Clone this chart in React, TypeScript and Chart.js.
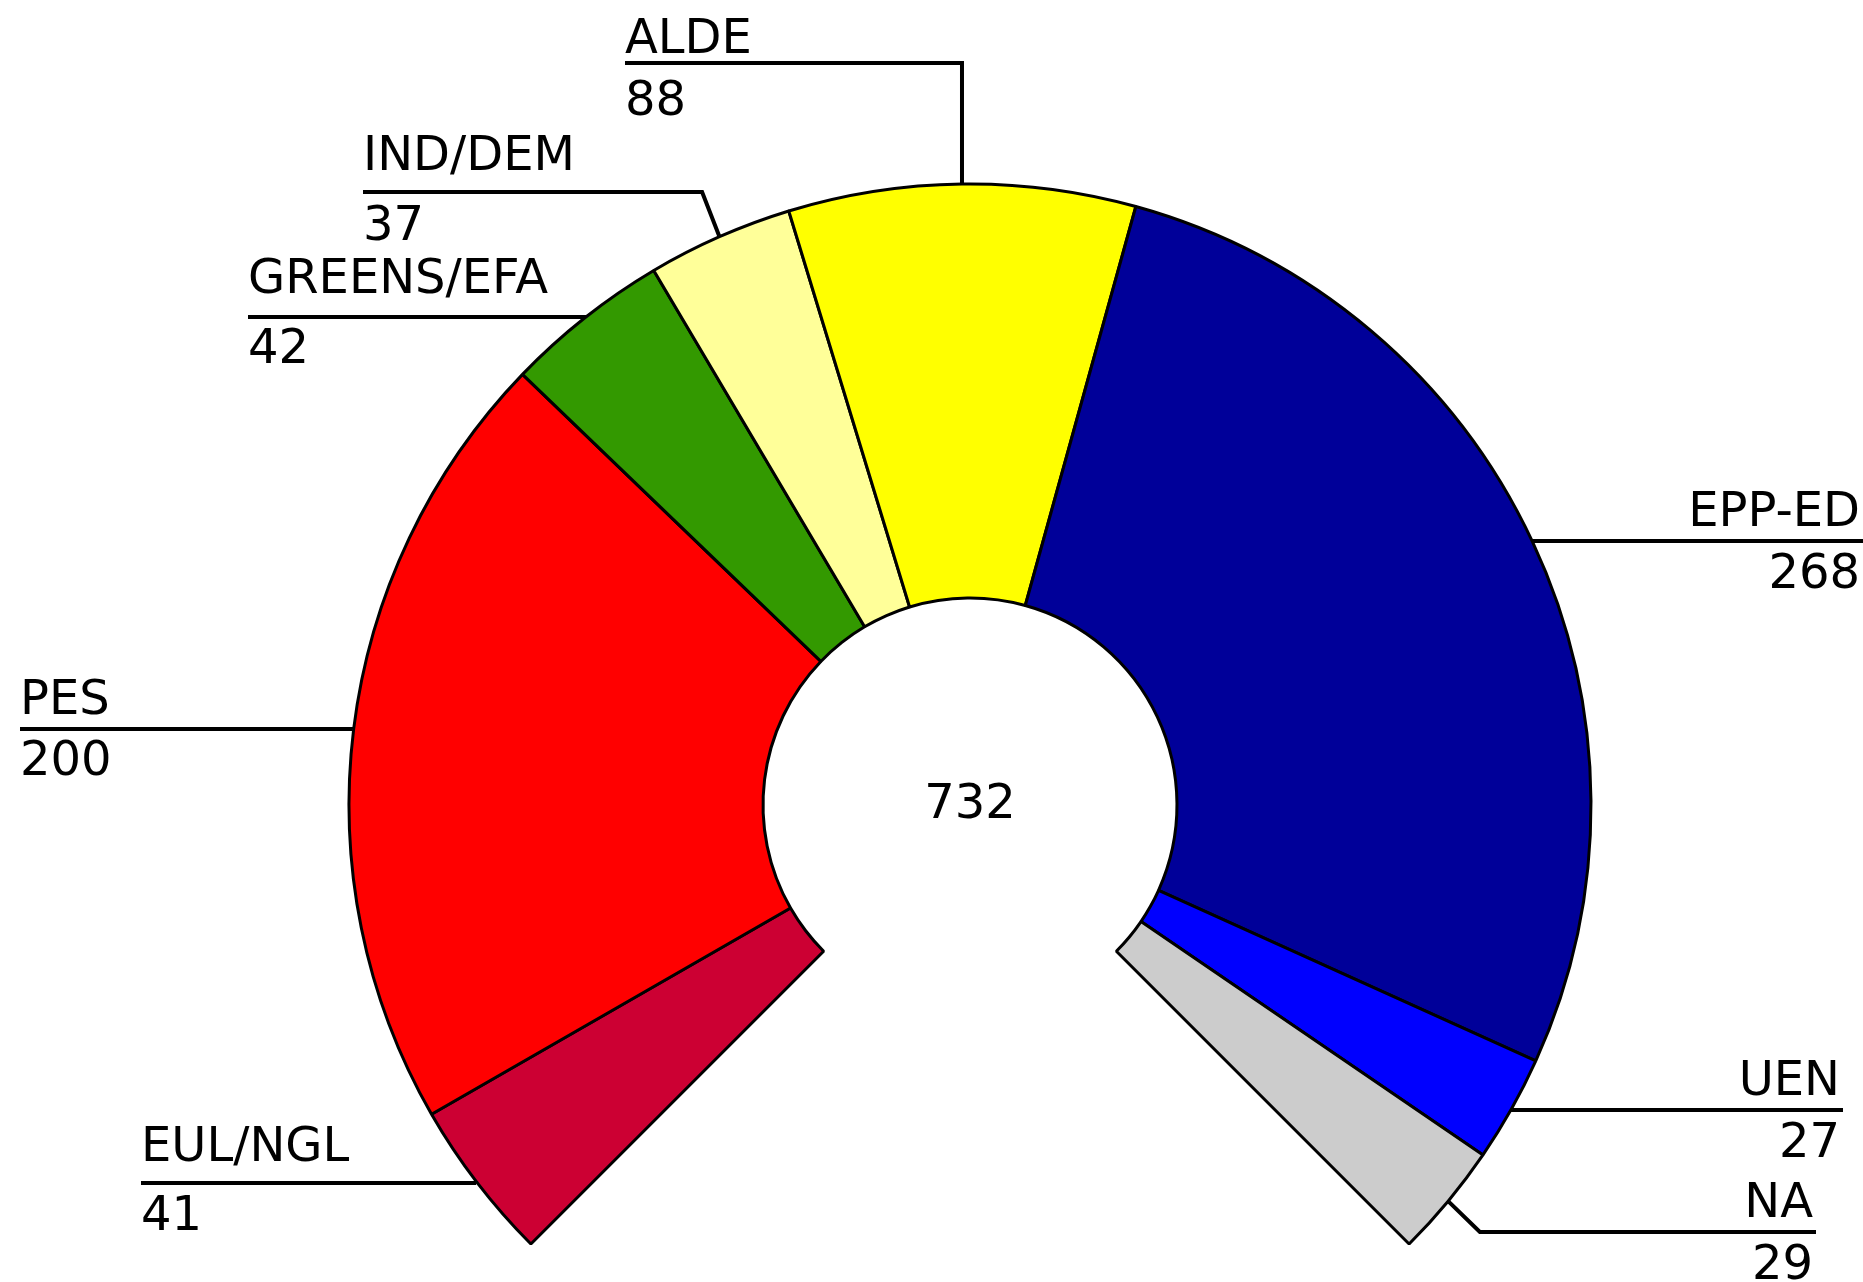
import React, { useEffect, useRef } from "react";
import Chart from "chart.js/auto";

// ---- Data ----
const groups = ["EUL/NGL", "PES", "GREENS/EFA", "IND/DEM", "ALDE", "EPP-ED", "UEN", "NA"];
const seats = [41, 200, 42, 37, 88, 268, 27, 29];
const groupColors = ["#CC0033", "#FF0000", "#339900", "#FFFF99", "#FFFF00", "#000099", "#0000FF", "#CCCCCC"];

// ---- Label layout (annotation placement, not data) ----
const labelSide = ["left", "left", "left", "left", "left", "right", "right", "right"];
const labelTextX = [141, 20, 248, 363, 625, 1860, 1840, 1813];
const labelLineY: (number | null)[] = [null, null, null, 192, 63, null, null, 1232];
const labelElbowDx = [0, 0, 0, -17, 0, 0, 0, 31];
const labelNameGap = [22, 15, 24, 22, 10, 15, 15, 15];
const labelNumGap = [47, 46, 46, 48, 52, 47, 47, 47];

const FONT = '48px "DejaVu Sans"';

const labelPlugin = {
  id: "seatLabels",
  afterDatasetsDraw(chart: any) {
    const ctx = chart.ctx as CanvasRenderingContext2D;
    const meta = chart.getDatasetMeta(0);
    ctx.save();
    ctx.strokeStyle = "#000";
    ctx.fillStyle = "#000";
    ctx.font = FONT;
    ctx.lineCap = "butt";
    ctx.lineJoin = "miter";
    let cx = 0, cy = 0;
    meta.data.forEach((arc: any, i: number) => {
      const p = arc.getProps(["x", "y", "startAngle", "endAngle", "outerRadius"], true);
      cx = p.x; cy = p.y;
      const mid = (p.startAngle + p.endAngle) / 2;
      const r = p.outerRadius + 1;
      const ax = p.x + Math.cos(mid) * r;
      const ay = p.y + Math.sin(mid) * r;
      const lineY = labelLineY[i] ?? Math.round(ay);
      const ex = ax + labelElbowDx[i];
      const side = labelSide[i];
      const tx = labelTextX[i];
      const lineEnd = side === "left" ? tx : tx + 3;
      // leader line
      ctx.lineWidth = 4;
      ctx.beginPath();
      ctx.moveTo(ax, ay);
      ctx.lineTo(ex, lineY);
      ctx.lineTo(lineEnd, lineY);
      ctx.stroke();
      // text
      ctx.textAlign = side === "left" ? "left" : "right";
      ctx.textBaseline = "alphabetic";
      ctx.fillText(groups[i], tx, lineY - labelNameGap[i]);
      ctx.fillText(String(seats[i]), tx, lineY + labelNumGap[i]);
    });
    // total in the centre
    const total = seats.reduce((a, b) => a + b, 0);
    ctx.textAlign = "center";
    ctx.fillText(String(total), cx, cy + 13);
    ctx.restore();
  },
};

export default function App() {
  const canvasRef = useRef<HTMLCanvasElement | null>(null);

  useEffect(() => {
    if (!canvasRef.current) return;
    const chart = new Chart(canvasRef.current, {
      type: "doughnut",
      data: {
        labels: groups,
        datasets: [
          {
            data: seats,
            backgroundColor: groupColors,
            borderColor: "#000000",
            borderWidth: 3,
          },
        ],
      },
      options: {
        responsive: false,
        animation: false,
        rotation: 225,
        circumference: 270,
        radius: 621,
        cutout: "33.33%",
        layout: { padding: { left: 77, right: 0, top: 146, bottom: 0 } },
        plugins: {
          legend: { display: false },
          tooltip: { enabled: false },
        },
      } as any,
      plugins: [labelPlugin],
    });
    return () => chart.destroy();
  }, []);

  return (
    <div style={{ position: "absolute", left: 0, top: 0, width: 1863, height: 1282, background: "#fff" }}>
      <canvas ref={canvasRef} width={1863} height={1282} style={{ display: "block" }} />
    </div>
  );
}
